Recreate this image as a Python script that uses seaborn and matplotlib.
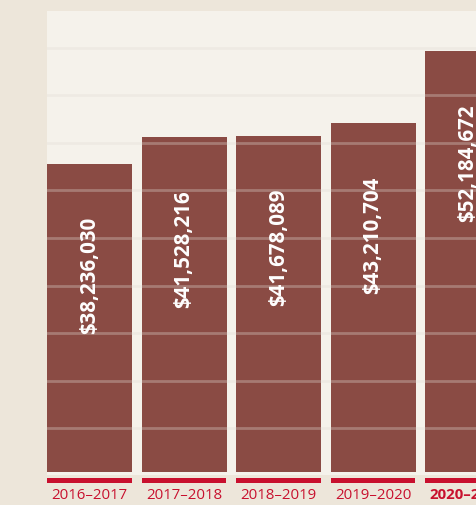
import matplotlib
matplotlib.use("Agg")
import matplotlib.pyplot as plt
import seaborn as sns
import pandas as pd

# ==============================
# Data
# ==============================
years = ["2016–2017", "2017–2018", "2018–2019", "2019–2020", "2020–2021"]
amounts = [38236030, 41528216, 41678089, 43210704, 52184672]
amount_labels = ["$38,236,030", "$41,528,216", "$41,678,089", "$43,210,704", "$52,184,672"]
grid_values = [5.42, 11.31, 17.2, 23.1, 29.0, 34.9, 40.8, 46.7, 52.6]  # millions

df = pd.DataFrame({"year": years, "millions": [a / 1e6 for a in amounts]})

# ==============================
# Style
# ==============================
page_bg = "#ede6da"
plot_bg = "#f5f2eb"
bar_color = "#8a4b44"
red = "#c8102e"
plt.rcParams["font.family"] = ["Open Sans", "DejaVu Sans"]

W, H = 477, 505
fig = plt.figure(figsize=(W / 100, H / 100), dpi=100, facecolor=page_bg)
ax_left, ax_bottom, ax_top = 47, 475, 11
slot = 94.5  # px per category
ax = fig.add_axes([ax_left / W, (H - ax_bottom) / H, 4.95 * slot / W, (ax_bottom - ax_top) / H])
ax.set_facecolor(plot_bg)

sns.barplot(data=df, x="year", y="millions", order=years, color=bar_color,
            saturation=1, width=0.9, ax=ax, zorder=2)

y_scale = 8.067  # px per million
ymin = -3 / y_scale
ymax = (472 - ax_top) / y_scale
ax.set_ylim(ymin, ymax)
ax.set_xlim(-0.45, 4.5)

# gridlines drawn over the bars
for g in grid_values:
    ax.axhline(g, color=(225 / 255, 220 / 255, 213 / 255), alpha=0.33, lw=2.0, zorder=3)

# value labels inside bars
for i, (v, lab) in enumerate(zip(df["millions"], amount_labels)):
    ax.text(i, v - 53 / y_scale, lab, rotation=90, ha="center", va="top",
            color="white", fontsize=14.8, fontweight="bold", zorder=4)

# red underline below each bar
px = 1 / y_scale
ax.bar(range(len(years)), [5 * px] * len(years), bottom=-11 * px, width=0.89,
       color=red, clip_on=False, zorder=2)

for s in ax.spines.values():
    s.set_visible(False)
ax.set_yticks([])
ax.set_xlabel("")
ax.set_ylabel("")
ax.tick_params(axis="x", length=0, pad=9.5, labelsize=10.8, labelcolor=red)
ax.set_xticks(range(len(years)))
ax.set_xticklabels(years)
ax.get_xticklabels()[-1].set_fontweight("bold")

fig.savefig("out.png", dpi=100, facecolor=page_bg)
